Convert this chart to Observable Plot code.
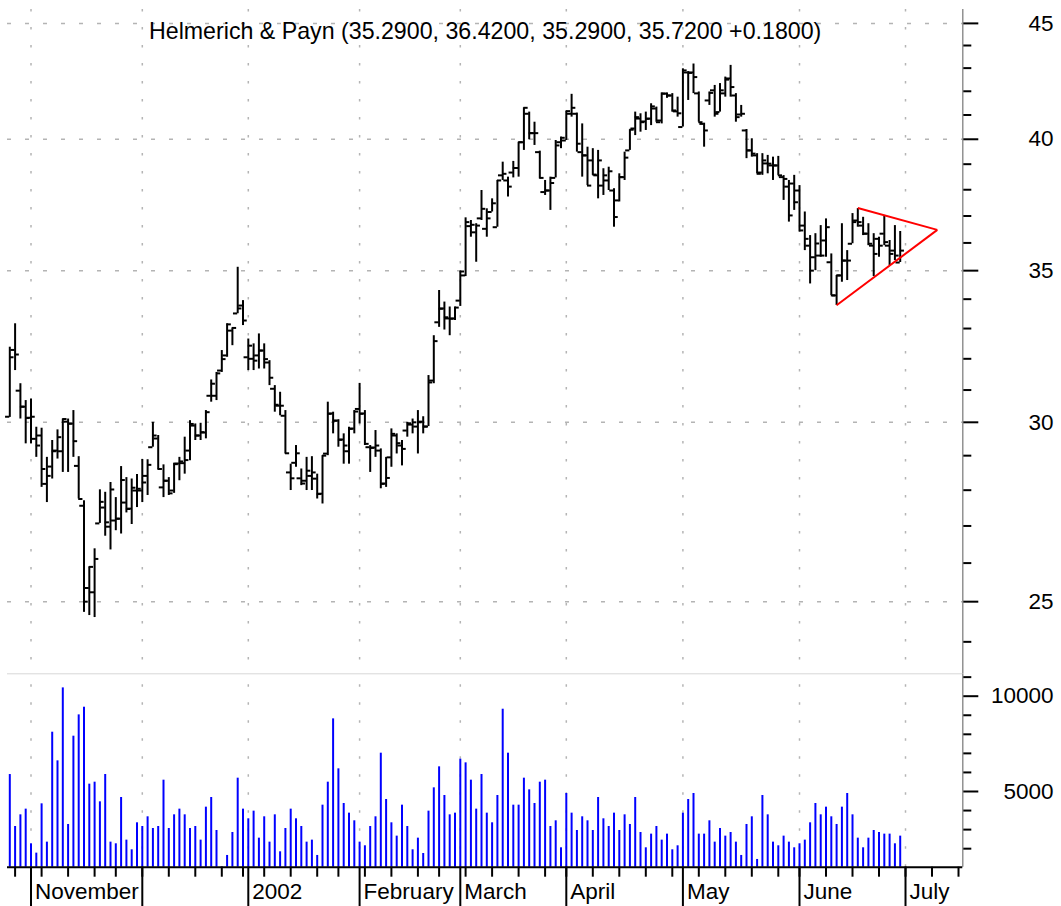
<!DOCTYPE html>
<html><head><meta charset="utf-8">
<script src="https://cdn.jsdelivr.net/npm/d3@7"></script>
<script src="https://cdn.jsdelivr.net/npm/@observablehq/plot@0.6"></script>
<style>
html,body{margin:0;padding:0;background:#fff;}
#chart{position:relative;width:1061px;height:906px;overflow:hidden;background:#fff;font-family:"Liberation Sans",Arial,sans-serif;}
#chart svg{position:absolute;left:0;}
</style></head><body><div id="chart"></div>
<script>
const title = "Helmerich & Payn (35.2900, 36.4200, 35.2900, 35.7200 +0.1800)";

const open = [30.17,32.29,30.98,30.48,30.14,29.50,29.60,28.18,28.68,29.15,
29.13,30.02,29.96,28.70,27.56,25.35,25.24,27.07,27.51,26.98,
27.15,27.20,27.65,27.48,27.99,27.99,28.41,29.25,29.51,28.08,
28.27,27.99,28.77,28.78,29.15,29.90,29.60,29.69,30.82,30.82,
31.62,32.11,32.93,33.51,33.78,32.05,32.00,32.11,32.27,31.88,
31.04,30.51,30.20,28.51,28.79,28.34,28.27,28.41,28.33,27.90,
29.06,30.27,30.05,29.48,29.13,29.81,30.41,30.27,29.25,29.24,
29.15,28.19,28.95,29.60,29.30,29.75,29.93,29.87,30.02,29.87,
31.30,33.21,33.68,33.34,33.34,33.95,34.83,36.62,36.39,36.91,
36.52,37.15,36.58,38.56,38.36,38.67,38.85,39.88,41.05,40.25,
39.48,37.91,37.97,38.46,39.88,39.95,41.05,41.05,39.48,39.35,
39.15,38.56,38.16,38.36,37.97,37.59,38.49,39.55,40.44,40.85,
40.73,40.85,41.27,40.77,41.90,41.82,41.15,40.50,42.81,42.81,
41.91,40.63,41.61,42.04,41.12,41.91,42.55,41.82,41.02,40.36,
39.55,39.35,38.67,39.03,38.95,38.95,38.49,38.12,38.24,37.97,
36.64,35.90,35.48,35.54,36.09,35.30,34.13,34.83,35.36,35.97,
36.83,36.64,36.34,35.90,36.15,36.34,35.90,35.72,35.29];

const high = [32.38,33.16,31.20,30.67,30.72,29.85,29.82,28.95,29.45,29.77,
30.10,30.10,30.36,28.97,27.70,25.90,26.38,28.01,27.94,28.22,
27.79,28.68,28.36,28.32,28.45,28.89,28.88,30.00,29.60,28.73,
28.36,28.78,28.95,29.55,30.05,29.95,29.97,30.36,31.32,31.56,
32.27,33.16,33.02,35.12,33.95,32.65,32.49,32.82,32.49,31.94,
31.14,30.93,30.36,28.75,29.30,28.61,28.95,28.97,28.46,29.00,
30.62,30.31,30.08,29.65,29.85,30.36,31.21,30.36,29.30,29.75,
29.20,28.95,29.80,29.65,29.45,30.00,30.10,30.36,30.17,31.46,
32.76,34.30,33.90,33.73,33.73,34.98,36.93,36.83,36.71,37.97,
37.27,37.65,38.36,39.08,38.49,39.11,39.88,41.30,41.12,40.70,
39.52,38.36,38.49,39.95,40.09,41.16,41.87,41.08,40.63,39.68,
39.62,39.55,38.82,38.88,38.04,38.62,39.48,40.39,41.12,41.05,
41.12,41.47,41.33,41.93,41.93,41.90,41.75,42.97,42.85,43.18,
41.97,40.66,41.97,42.25,42.33,42.61,43.12,41.90,41.40,40.40,
40.02,39.42,39.42,39.35,39.28,39.31,38.55,38.36,38.56,38.16,
37.15,36.27,36.34,36.64,36.89,35.60,34.83,36.71,35.72,37.09,
37.28,36.95,36.71,36.34,36.21,37.02,36.09,36.64,36.42];

const low = [30.15,31.62,30.10,29.35,29.35,28.95,28.08,27.65,28.32,28.90,
28.51,28.51,28.95,27.75,24.73,24.65,24.60,27.07,26.72,26.35,
26.87,26.78,27.36,27.04,27.51,27.65,27.85,29.25,28.58,27.79,
27.85,27.91,28.27,28.46,28.85,29.45,29.45,29.50,30.62,30.67,
31.56,32.05,32.43,33.50,33.10,31.62,31.62,31.67,31.67,31.14,
30.31,30.20,29.05,27.99,28.66,28.13,27.99,27.99,27.75,27.61,
29.00,29.65,29.25,28.75,28.75,29.65,29.95,29.30,28.51,28.95,
28.04,28.08,28.66,29.05,28.70,29.55,29.65,29.05,29.65,29.87,
31.20,33.04,32.95,32.76,33.27,33.75,34.79,36.21,35.30,36.83,
36.21,37.15,36.58,38.36,37.72,38.46,38.49,39.55,39.98,39.75,
38.42,37.78,37.21,38.46,39.62,39.95,40.91,39.48,38.49,38.16,
38.56,37.65,37.78,37.97,36.58,37.53,38.36,39.55,40.15,40.29,
40.36,40.56,40.70,40.63,41.70,41.12,40.91,40.50,41.61,41.90,
40.70,39.68,41.40,40.91,41.12,41.75,41.75,40.70,40.91,39.22,
39.28,38.62,38.56,38.62,38.36,38.56,37.59,36.77,37.21,36.40,
35.72,34.53,35.00,35.48,35.48,34.13,33.78,34.59,34.65,35.97,
36.58,36.27,35.90,34.79,35.48,35.90,35.18,35.36,35.29];

const close = [32.05,32.14,30.48,30.13,30.17,29.30,28.61,28.41,29.13,29.55,
30.10,29.96,29.43,27.75,25.00,25.90,26.11,27.67,27.10,28.02,
27.20,28.29,27.47,28.07,28.04,28.22,28.73,29.60,28.61,28.27,
27.91,28.75,28.83,28.87,29.95,29.60,29.70,30.31,31.20,31.53,
31.99,33.14,33.02,33.68,33.27,32.43,31.94,32.27,31.99,31.39,
30.54,30.51,29.07,28.34,29.07,28.19,28.56,28.51,27.89,29.00,
30.26,30.05,29.47,29.30,29.80,30.33,30.26,29.35,29.23,29.30,
28.18,28.35,29.65,29.37,29.20,29.97,30.00,30.00,29.87,31.24,
32.58,33.67,33.38,33.33,33.71,34.97,36.77,36.67,36.64,37.27,
36.91,37.48,38.36,38.62,38.12,38.85,39.88,41.30,40.25,40.25,
38.46,37.97,38.26,39.75,40.06,41.16,41.30,39.82,39.35,38.16,
38.59,39.15,38.56,38.72,36.96,38.49,39.26,40.39,40.91,40.70,
40.84,41.36,40.70,41.90,41.82,41.19,41.07,42.90,42.79,42.61,
40.70,40.36,41.93,41.05,42.04,42.50,42.18,40.91,41.05,39.55,
39.42,38.62,39.15,39.02,38.95,38.56,38.42,37.02,37.52,36.46,
36.15,35.00,35.98,35.54,36.58,34.13,34.83,35.36,35.36,36.77,
36.77,36.34,35.97,35.60,35.90,36.03,35.60,35.54,35.72];

const volume = [5890,3165,3776,4074,2256,1766,4353,2343,8111,6608,
10436,3270,7902,9020,9422,5385,5489,4458,5891,2343,
2256,4685,2448,1941,3357,3165,3672,3060,3165,5594,
3060,3776,4074,3776,3060,3165,2448,4178,4685,2955,
1050,1644,2850,5699,4074,3567,3969,2552,3672,2343,
3776,1836,3060,4074,3567,3165,2343,2448,1644,4283,
5489,8811,6189,4371,3864,3462,2343,2151,3165,3672,
7010,4580,3357,2658,4283,3165,1941,2552,1748,3969,
5192,6294,4790,3776,3864,6696,6503,5594,4074,5891,
3864,3357,4790,9317,7010,4283,4283,5699,5087,4371,
5489,5594,3165,3462,2046,4895,3864,2955,3672,3462,
2955,4685,3567,3165,3864,2955,3776,3270,4685,2850,
2046,2763,3165,2448,2763,1941,2151,3864,4580,4895,
2763,2763,3462,2343,3060,2658,2850,2343,1644,3270,
3672,1434,4790,3776,2343,2151,2658,2343,2046,2256,
2448,3357,4371,3776,4178,3672,3270,4178,4895,3776,
2552,2046,2552,2955,2850,2763,2763,2256,2658];

// trading-day indices (0-based) of first session of each month, and their labels
const monthTicks = [4,25,45,66,85,105,127,149,169];
const monthLabels = ["November","","2002","February","March","April","May","June","July"];
// first session of each week
const weekTicks = [1,6,11,16,20,25,30,35,40,44,48,53,58,62,67,72,77,81,86,91,96,101,105,110,115,120,125,130,135,140,145,149,154,159,164,169,174,179];

const priceMajor = [25,30,35,40,45];
const priceMinor = [24,26,27,28,29,31,32,33,34,36,37,38,39,41,42,43,44];
const volMajor = [5000,10000];
const volMinor = [2000,3000,4000,6000,7000,8000,9000,11000];

// symmetrical triangle drawn on the chart (index, price)
const triangle = [
  {x1:160, y1:37.30, x2:175, y2:36.48},
  {x1:156, y1:33.79, x2:175, y2:36.48}
];

const xDomain = [-0.434, 179.81];
const priceDomain = [23.24, 45.64];
const volDomain = [1028, 11175];

const bars = open.map((o, i) => ({i, o, h: high[i], l: low[i], c: close[i], v: volume[i]}));
const months = monthTicks.map((i, k) => ({i, label: monthLabels[k]}));

const FONT = '"Liberation Sans", Arial, Helvetica, sans-serif';
const GRID = "#b4b4b4";
const AXIS = "#808080";

const priceChart = Plot.plot({
  width: 1061, height: 673,
  marginTop: 9, marginBottom: 0, marginLeft: 7, marginRight: 98.7,
  style: {fontFamily: FONT, fontSize: "22px", background: "transparent", overflow: "visible", color: "black"},
  x: {domain: xDomain, axis: null, label: null},
  y: {type: "log", domain: priceDomain, label: null},
  marks: [
    Plot.ruleY(priceMajor, {stroke: GRID, strokeWidth: 1.5, strokeDasharray: "4,14"}),
    Plot.ruleX(monthTicks, {stroke: GRID, strokeWidth: 1.5, strokeDasharray: "2.5,15.5"}),
    Plot.ruleX([xDomain[1]], {stroke: AXIS, strokeWidth: 1.3}),
    Plot.ruleX(bars, {x: "i", y1: "l", y2: "h", stroke: "black", strokeWidth: 2}),
    Plot.ruleY(bars, {y: "o", x1: d => d.i - 0.8, x2: "i", stroke: "black", strokeWidth: 2}),
    Plot.ruleY(bars, {y: "c", x1: "i", x2: d => d.i + 0.8, stroke: "black", strokeWidth: 2}),
    Plot.link(triangle, {x1: "x1", y1: "y1", x2: "x2", y2: "y2", stroke: "red", strokeWidth: 2}),
    Plot.text([title], {text: d => d, frameAnchor: "top", lineAnchor: "middle", dy: 21.9, fontSize: 23.2, fill: "black"}),
    Plot.axisY({anchor: "right", ticks: priceMinor, tickSize: 8, tickFormat: () => "", strokeWidth: 2, stroke: "black", label: null}),
    Plot.axisY({anchor: "right", ticks: priceMajor, tickSize: 15, tickFormat: () => "", strokeWidth: 2, stroke: "black", label: null}),
    Plot.text(priceMajor, {y: d => d, text: d => String(d), frameAnchor: "right", lineAnchor: "middle", textAnchor: "end", dx: 90.7, fontSize: 22.5, fill: "black"})
  ]
});
priceChart.style.top = "0px";

const volChart = Plot.plot({
  width: 1061, height: 234,
  marginTop: 1.3, marginBottom: 39.3, marginLeft: 7, marginRight: 98.7,
  style: {fontFamily: FONT, fontSize: "22px", background: "transparent", overflow: "visible", color: "black"},
  x: {domain: xDomain, label: null},
  y: {domain: volDomain, label: null},
  marks: [
    Plot.ruleY([volDomain[1]], {stroke: "#d8d8d8", strokeWidth: 1}),
    Plot.ruleX(monthTicks, {stroke: GRID, strokeWidth: 1.5, strokeDasharray: "2.5,15.5", strokeDashoffset: 7}),
    Plot.ruleX([xDomain[1]], {stroke: AXIS, strokeWidth: 1.3}),
    Plot.ruleX(bars, {x: "i", y1: () => volDomain[0], y2: "v", stroke: "#0000ff", strokeWidth: 2}),
    Plot.ruleY([volDomain[0]], {stroke: "black", strokeWidth: 2}),
    Plot.axisX({ticks: weekTicks, tickSize: 10, tickFormat: () => "", strokeWidth: 2, stroke: "black", label: null}),
    Plot.axisX({ticks: monthTicks, tickSize: 40, tickFormat: () => "", strokeWidth: 2, stroke: "black", label: null}),
    Plot.text(months, {x: "i", text: "label", frameAnchor: "bottom", lineAnchor: "middle", textAnchor: "start", dx: 4, dy: 24.3, fontSize: 22.5, fill: "black"}),
    Plot.axisY({anchor: "right", ticks: volMinor, tickSize: 8, tickFormat: () => "", strokeWidth: 2, stroke: "black", label: null}),
    Plot.axisY({anchor: "right", ticks: volMajor, tickSize: 15, tickFormat: () => "", strokeWidth: 2, stroke: "black", label: null}),
    Plot.text(volMajor, {y: d => d, text: d => String(d), frameAnchor: "right", lineAnchor: "middle", textAnchor: "end", dx: 90.7, fontSize: 22.5, fill: "black"})
  ]
});
volChart.style.top = "672px";

const root = document.getElementById("chart");
root.appendChild(priceChart);
root.appendChild(volChart);
</script>
</body></html>
